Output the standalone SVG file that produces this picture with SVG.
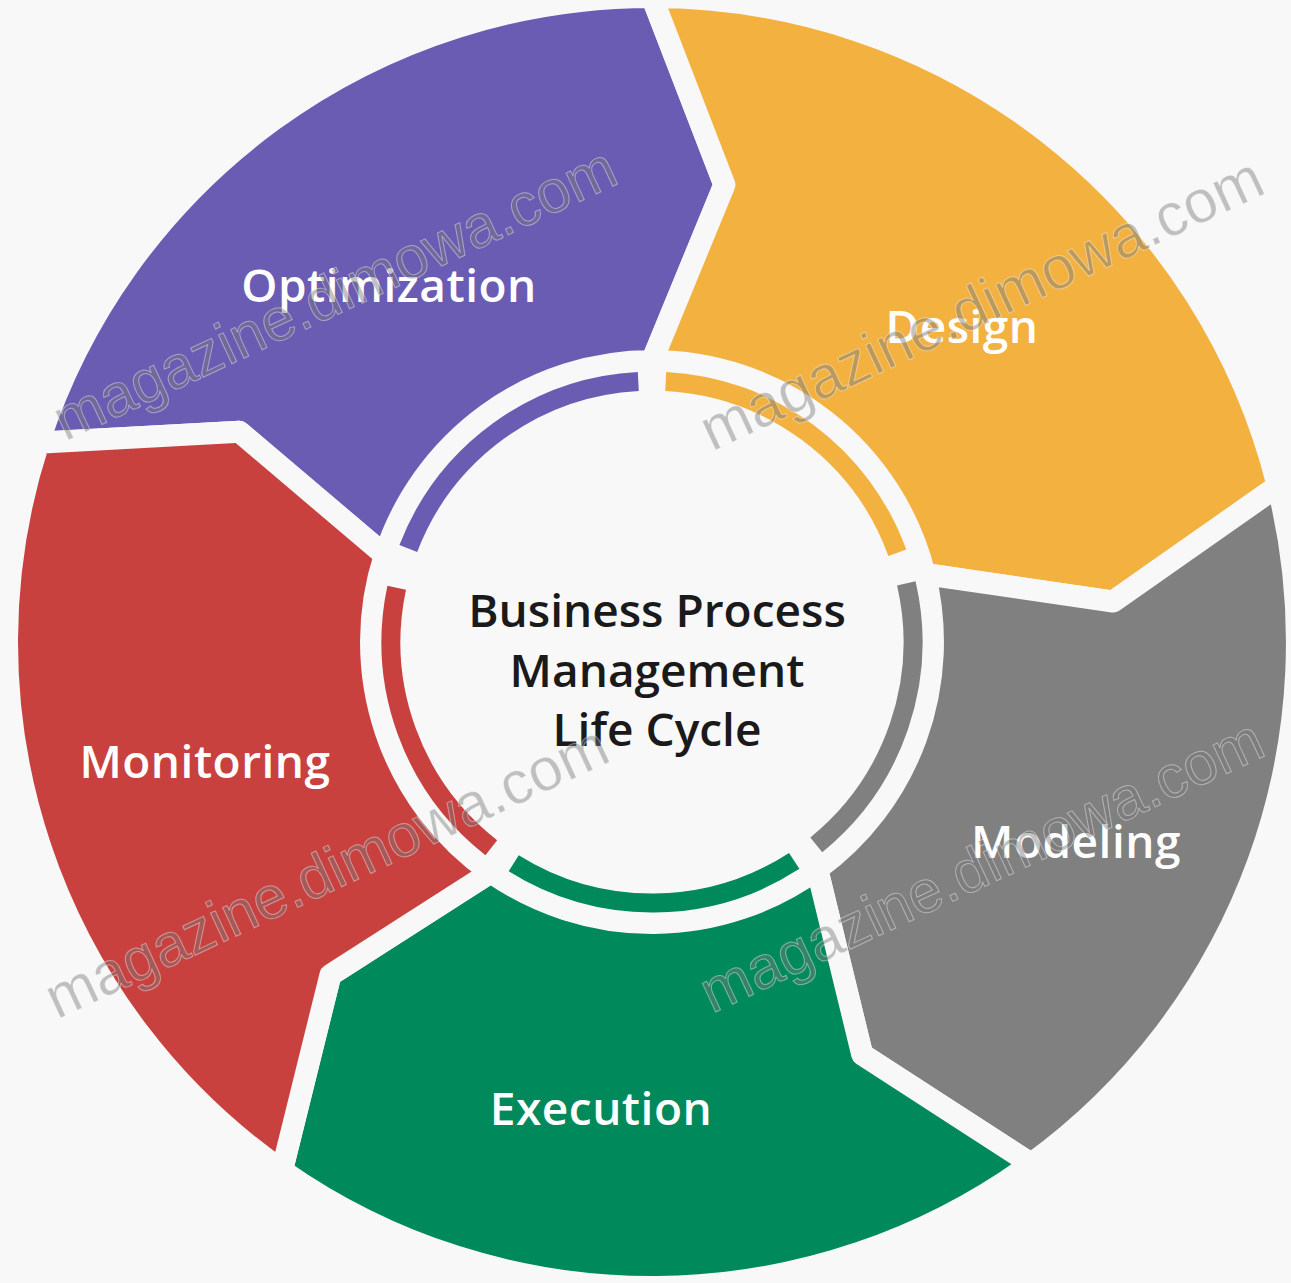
<svg xmlns="http://www.w3.org/2000/svg" width="1291" height="1283" viewBox="0 0 1291 1283">
<style>
.seg{stroke:#f8f8f8;stroke-width:22;stroke-linejoin:round}
.arc{fill:none;stroke-width:19}
.lbl{font-family:"Open Sans","Liberation Sans",sans-serif;font-weight:600;font-size:46px;fill:#ffffff;text-anchor:middle;letter-spacing:0.5px}
.title{font-family:"Open Sans","Liberation Sans",sans-serif;font-weight:600;font-size:46px;fill:#1a1a1a;text-anchor:middle}
.wm{font-family:"Liberation Sans",Arial,sans-serif;font-size:60px;fill:#7a7a7a;fill-opacity:0.45;stroke:#ffffff;stroke-opacity:0.4;stroke-width:1;text-anchor:middle}
</style>
<rect width="1291" height="1283" fill="#f8f8f8"/>
<g id="optimization">
<path class="seg" fill="#6a5cb3" d="M38.6 442.7 A645 645 0 0 1 652 -3 L724.4 184.7 L652 361 A281 281 0 0 0 384.8 555.2 L239.5 431.8 Z"/>
<path class="arc" stroke="#6a5cb3" d="M408.3 548.5 A261 261 0 0 1 638.3 381.4"/>
<text class="lbl" x="389" y="302">Optimization</text>
</g>
<g id="design">
<path class="seg" fill="#f3b13f" d="M652 -3 A645 645 0 0 1 1277.8 486 L1113.2 601.6 L924.6 574 A281 281 0 0 0 652 361 L724.4 184.7 Z"/>
<path class="arc" stroke="#f3b13f" d="M665.7 381.4 A261 261 0 0 1 897.3 552.7"/>
<text class="lbl" x="962" y="343">Design</text>
</g>
<g id="modeling">
<path class="seg" fill="#808080" d="M1277.8 486 A645 645 0 0 1 1031.1 1163.8 L862.2 1054.5 L817.2 869.3 A281 281 0 0 0 924.6 574 L1113.2 601.6 Z"/>
<path class="arc" stroke="#808080" d="M906.3 583.3 A261 261 0 0 1 816.3 844.8"/>
<text class="lbl" x="1076" y="858">Modeling</text>
</g>
<g id="execution">
<path class="seg" fill="#008a5c" d="M1031.1 1163.8 A645 645 0 0 1 282 1170.4 L330.4 975.1 L490.8 872.2 A281 281 0 0 0 817.2 869.3 L862.2 1054.5 Z"/>
<path class="arc" stroke="#008a5c" d="M794.2 860.9 A261 261 0 0 1 513.7 863.3"/>
<text class="lbl" x="601" y="1125">Execution</text>
</g>
<g id="monitoring">
<path class="seg" fill="#c8413f" d="M282 1170.4 A645 645 0 0 1 38.6 442.7 L239.5 431.8 L384.8 555.2 A281 281 0 0 0 490.8 872.2 L330.4 975.1 Z"/>
<path class="arc" stroke="#c8413f" d="M491.3 847.7 A261 261 0 0 1 396.7 587.7"/>
<text class="lbl" x="205" y="778">Monitoring</text>
</g>
<g id="center">
<text class="title" x="657" y="627">Business Process</text>
<text class="title" x="657" y="687">Management</text>
<text class="title" x="657" y="746">Life Cycle</text>
</g>
<g id="connectors"></g>
<g id="watermarks">
<text class="wm" x="343" y="312" transform="rotate(-25 343 312)">magazine.dimowa.com</text>
<text class="wm" x="990" y="322" transform="rotate(-25 990 322)">magazine.dimowa.com</text>
<text class="wm" x="335" y="890" transform="rotate(-25 335 890)">magazine.dimowa.com</text>
<text class="wm" x="990" y="884" transform="rotate(-25 990 884)">magazine.dimowa.com</text>
</g>
</svg>
